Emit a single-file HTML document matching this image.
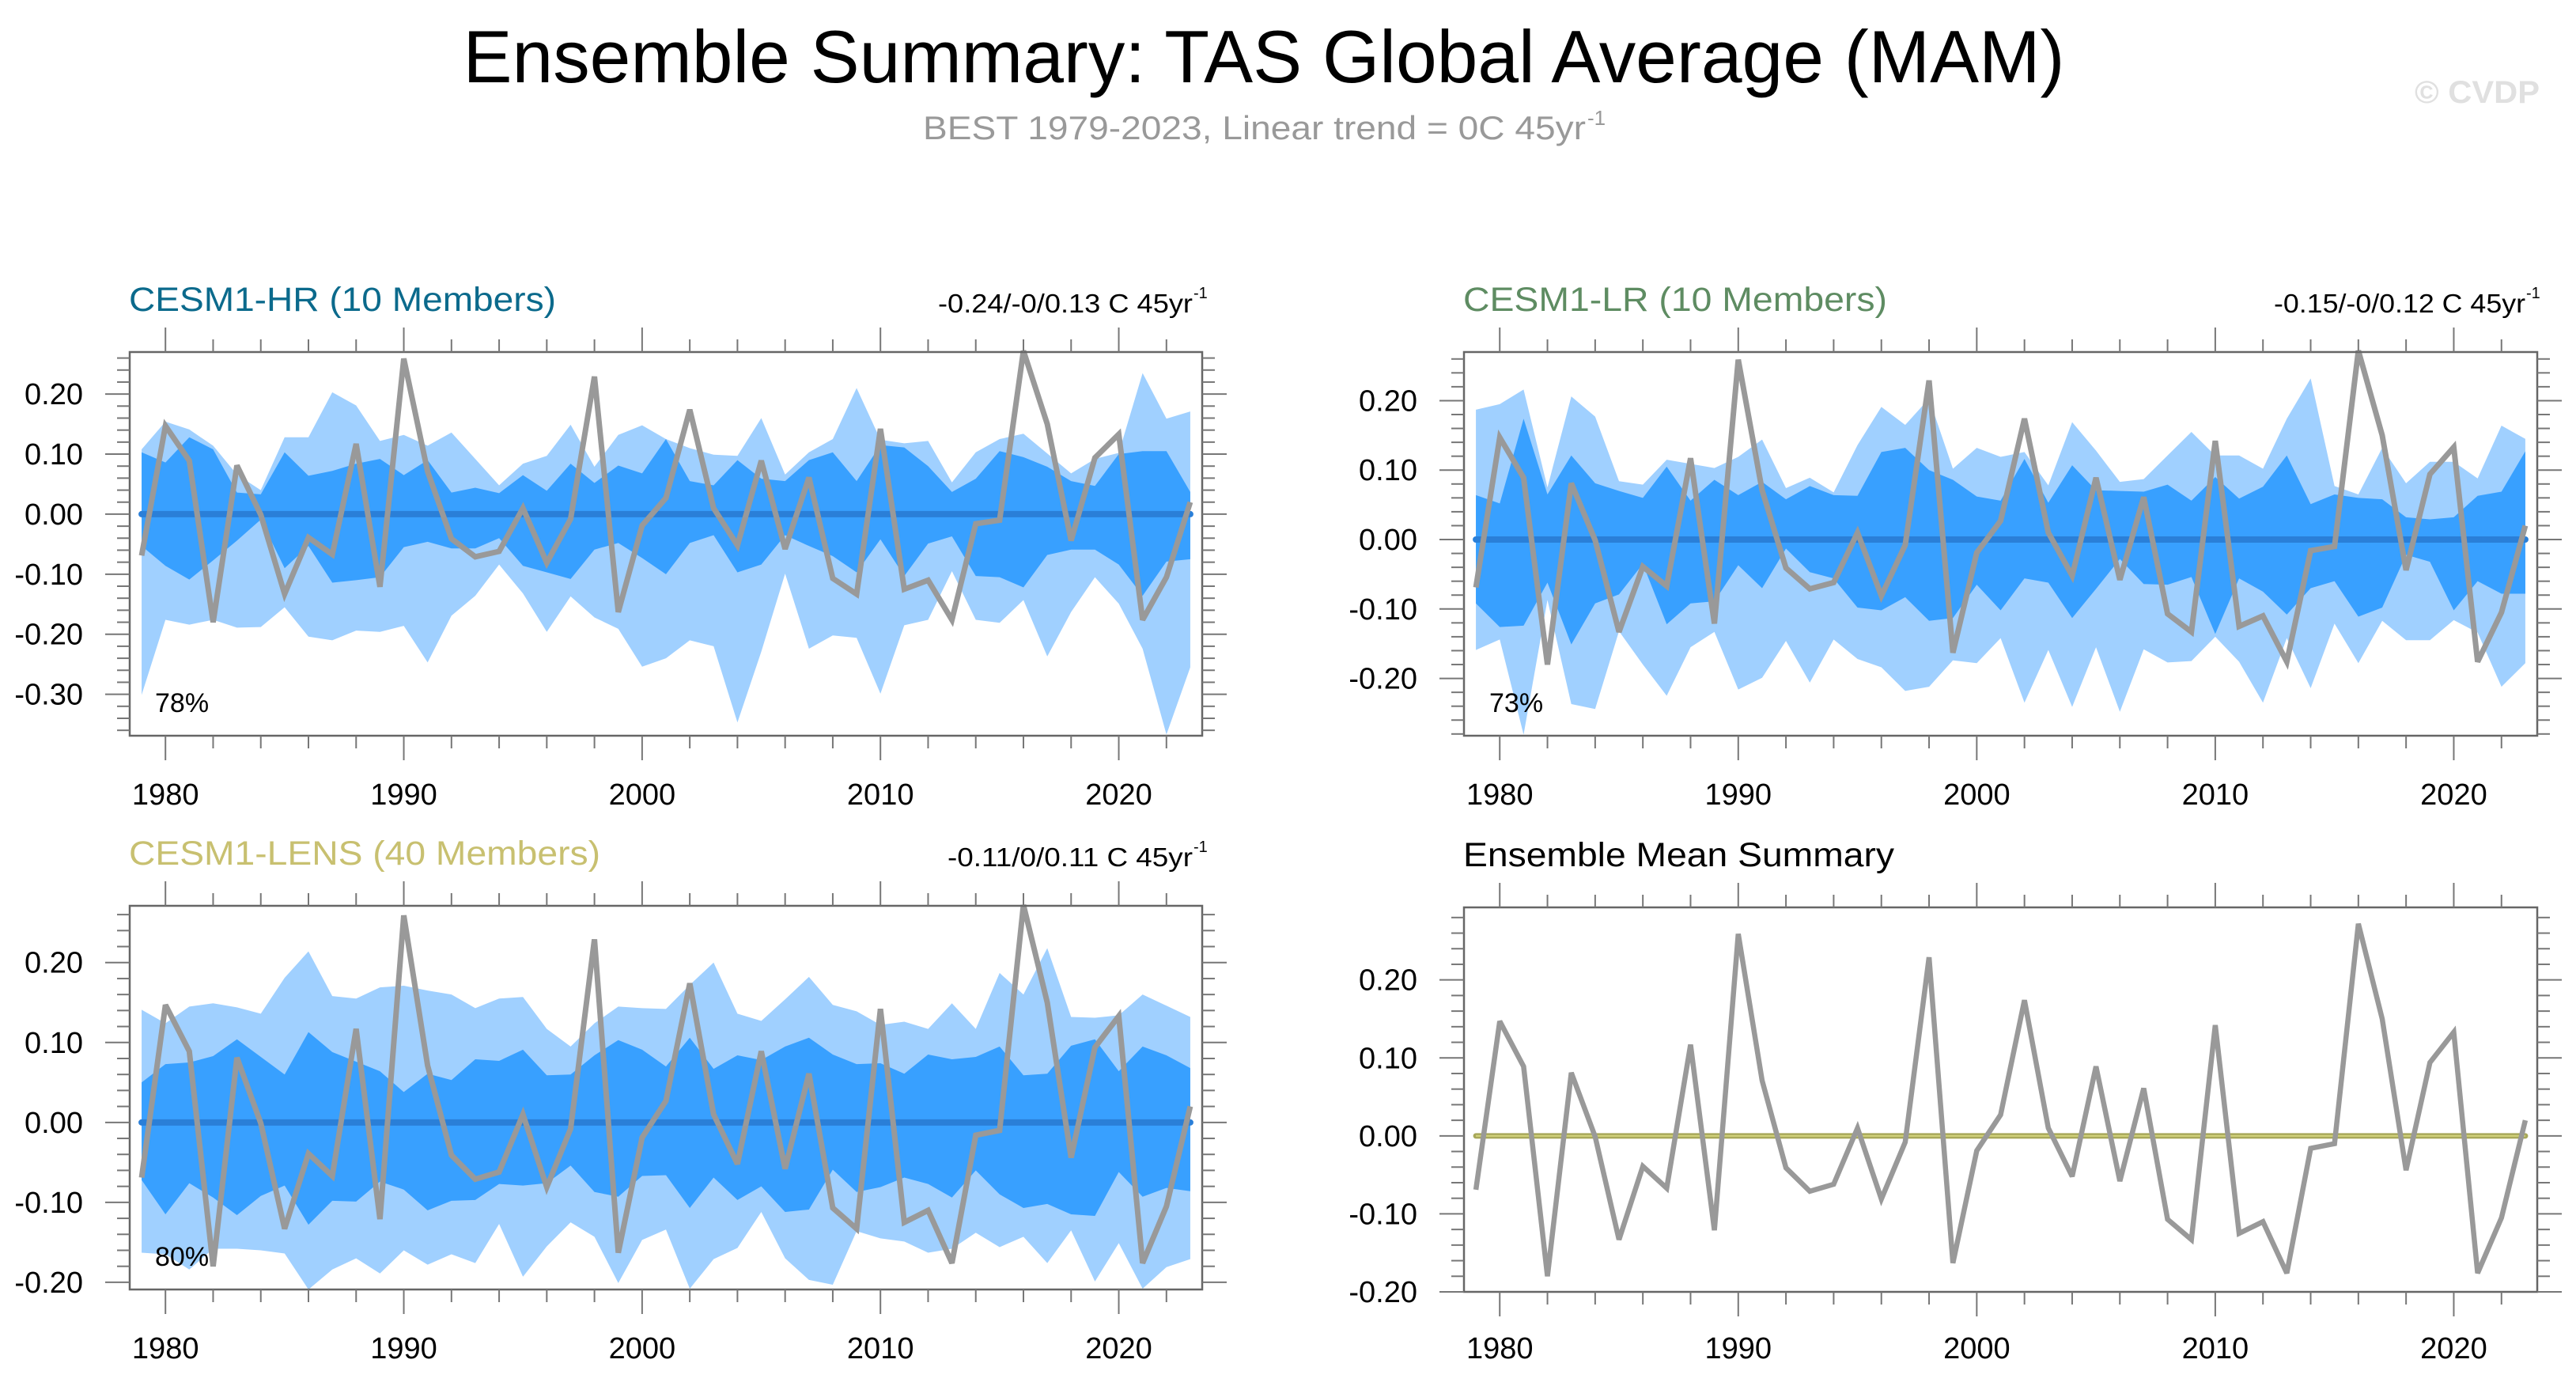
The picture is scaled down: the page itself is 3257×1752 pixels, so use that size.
<!DOCTYPE html>
<html><head><meta charset="utf-8">
<style>
html,body{margin:0;padding:0;background:#fff;}
svg{display:block;font-family:"Liberation Sans",Arial,sans-serif;}
</style></head>
<body>
<svg id="chart" width="3257" height="1752" viewBox="0 0 3257 1752" xmlns="http://www.w3.org/2000/svg">
<rect x="0" y="0" width="3257" height="1752" fill="#fff"/>
<text x="1598" y="104" font-size="94" text-anchor="middle" textLength="2025" lengthAdjust="spacingAndGlyphs" fill="#000">Ensemble Summary: TAS Global Average (MAM)</text>
<text x="1167" y="176" font-size="42" fill="#999" textLength="838" lengthAdjust="spacingAndGlyphs">BEST 1979-2023, Linear trend = 0C 45yr</text>
<text x="2007" y="158" font-size="26" fill="#999">-1</text>
<text x="3053" y="130" font-size="40" font-weight="bold" textLength="158" lengthAdjust="spacingAndGlyphs" fill="#e0e0e0">© CVDP</text>
<g id="panels"></g>
</svg>
<script>
const years = [1979,1980,1981,1982,1983,1984,1985,1986,1987,1988,1989,1990,1991,1992,1993,1994,1995,1996,1997,1998,1999,2000,2001,2002,2003,2004,2005,2006,2007,2008,2009,2010,2011,2012,2013,2014,2015,2016,2017,2018,2019,2020,2021,2022,2023];
const obs = [-0.069,0.147,0.089,-0.180,0.081,-0.001,-0.133,-0.039,-0.067,0.117,-0.121,0.259,0.071,-0.041,-0.071,-0.062,0.010,-0.081,-0.008,0.229,-0.163,-0.019,0.027,0.174,0.010,-0.052,0.089,-0.058,0.061,-0.107,-0.133,0.142,-0.125,-0.110,-0.176,-0.016,-0.010,0.272,0.150,-0.044,0.094,0.133,-0.176,-0.105,0.020];

const hrOuterHi = [0.108,0.154,0.141,0.114,0.066,0.040,0.128,0.128,0.203,0.181,0.122,0.132,0.114,0.136,0.092,0.048,0.084,0.097,0.149,0.079,0.132,0.148,0.125,0.110,0.099,0.097,0.160,0.066,0.103,0.125,0.210,0.124,0.118,0.122,0.053,0.103,0.125,0.134,0.101,0.068,0.092,0.102,0.235,0.159,0.171];
const hrInnerHi = [0.103,0.086,0.128,0.108,0.036,0.033,0.103,0.064,0.072,0.084,0.092,0.065,0.090,0.036,0.044,0.035,0.065,0.039,0.084,0.052,0.081,0.068,0.125,0.055,0.048,0.090,0.059,0.055,0.090,0.103,0.055,0.115,0.111,0.080,0.037,0.059,0.105,0.095,0.079,0.055,0.047,0.100,0.105,0.105,0.037];
const hrInnerLo = [-0.053,-0.086,-0.109,-0.077,-0.044,-0.009,-0.090,-0.053,-0.114,-0.110,-0.105,-0.055,-0.046,-0.057,-0.057,-0.040,-0.086,-0.097,-0.108,-0.059,-0.048,-0.073,-0.100,-0.048,-0.035,-0.097,-0.084,-0.035,-0.053,-0.070,-0.097,-0.042,-0.103,-0.049,-0.037,-0.103,-0.105,-0.122,-0.068,-0.059,-0.059,-0.084,-0.136,-0.079,-0.075];
const hrOuterLo = [-0.301,-0.176,-0.184,-0.176,-0.189,-0.188,-0.155,-0.204,-0.210,-0.194,-0.196,-0.186,-0.247,-0.169,-0.136,-0.084,-0.132,-0.196,-0.137,-0.172,-0.191,-0.254,-0.240,-0.210,-0.220,-0.347,-0.229,-0.099,-0.224,-0.202,-0.206,-0.299,-0.185,-0.176,-0.095,-0.176,-0.181,-0.143,-0.237,-0.163,-0.105,-0.149,-0.224,-0.367,-0.255];
const hrMean = [0,0,0,0,0,0,0,0,0,0,0,0,0,0,0,0,0,0,0,0,0,0,0,0,0,0,0,0,0,0,0,0,0,0,0,0,0,0,0,0,0,0,0,0,0];

const lrOuterHi = [0.187,0.195,0.216,0.075,0.206,0.177,0.084,0.079,0.115,0.109,0.103,0.119,0.144,0.074,0.089,0.068,0.136,0.191,0.165,0.203,0.102,0.132,0.119,0.126,0.078,0.169,0.128,0.083,0.087,0.121,0.155,0.121,0.121,0.102,0.174,0.232,0.077,0.065,0.132,0.081,0.112,0.112,0.088,0.164,0.145];
const lrInnerHi = [0.064,0.052,0.174,0.065,0.121,0.081,0.070,0.060,0.105,0.056,0.086,0.064,0.083,0.058,0.077,0.064,0.063,0.126,0.132,0.100,0.086,0.062,0.056,0.116,0.053,0.107,0.071,0.070,0.069,0.079,0.056,0.090,0.059,0.076,0.121,0.051,0.065,0.060,0.058,0.032,0.029,0.032,0.063,0.069,0.127];
const lrInnerLo = [-0.092,-0.126,-0.124,-0.062,-0.151,-0.092,-0.079,-0.035,-0.122,-0.092,-0.089,-0.037,-0.070,-0.013,-0.047,-0.056,-0.098,-0.102,-0.083,-0.117,-0.113,-0.065,-0.102,-0.056,-0.062,-0.113,-0.071,-0.028,-0.064,-0.065,-0.054,-0.136,-0.056,-0.075,-0.108,-0.070,-0.060,-0.111,-0.098,-0.022,-0.032,-0.102,-0.060,-0.078,-0.078];
const lrOuterLo = [-0.159,-0.144,-0.281,-0.087,-0.237,-0.244,-0.132,-0.180,-0.225,-0.155,-0.133,-0.216,-0.199,-0.146,-0.206,-0.144,-0.172,-0.184,-0.218,-0.212,-0.174,-0.178,-0.142,-0.235,-0.159,-0.241,-0.155,-0.248,-0.158,-0.177,-0.175,-0.140,-0.176,-0.235,-0.142,-0.214,-0.121,-0.178,-0.117,-0.145,-0.145,-0.116,-0.134,-0.212,-0.178];
const lrMean = [0,0,0,0,0,0,0,0,0,0,0,0,0,0,0,0,0,0,0,0,0,0,0,0,0,0,0,0,0,0,0,0,0,0,0,0,0,0,0,0,0,0,0,0,0];

const lensOuterHi = [0.141,0.124,0.145,0.149,0.144,0.136,0.181,0.214,0.158,0.155,0.169,0.171,0.165,0.160,0.143,0.155,0.157,0.117,0.095,0.124,0.145,0.143,0.142,0.172,0.200,0.136,0.127,0.154,0.182,0.147,0.139,0.122,0.126,0.117,0.149,0.117,0.187,0.160,0.218,0.132,0.131,0.134,0.160,0.146,0.132];
const lensInnerHi = [0.050,0.073,0.075,0.083,0.104,0.082,0.060,0.113,0.088,0.076,0.064,0.038,0.061,0.053,0.079,0.077,0.091,0.059,0.060,0.084,0.103,0.091,0.070,0.106,0.067,0.084,0.078,0.095,0.106,0.085,0.073,0.074,0.061,0.085,0.079,0.082,0.095,0.059,0.061,0.096,0.104,0.064,0.095,0.084,0.068];
const lensInnerLo = [-0.072,-0.115,-0.076,-0.094,-0.116,-0.092,-0.079,-0.128,-0.098,-0.099,-0.074,-0.084,-0.110,-0.098,-0.097,-0.077,-0.079,-0.076,-0.054,-0.087,-0.093,-0.067,-0.066,-0.107,-0.069,-0.097,-0.080,-0.112,-0.109,-0.059,-0.087,-0.081,-0.069,-0.077,-0.094,-0.060,-0.090,-0.107,-0.102,-0.115,-0.117,-0.062,-0.093,-0.082,-0.086];
const lensOuterLo = [-0.163,-0.165,-0.184,-0.158,-0.158,-0.160,-0.164,-0.209,-0.184,-0.170,-0.189,-0.160,-0.178,-0.165,-0.176,-0.127,-0.193,-0.155,-0.125,-0.143,-0.201,-0.147,-0.134,-0.208,-0.171,-0.157,-0.112,-0.170,-0.197,-0.203,-0.136,-0.145,-0.149,-0.163,-0.158,-0.138,-0.156,-0.143,-0.176,-0.135,-0.199,-0.151,-0.208,-0.181,-0.171];
const lensMean = [0,0,0,0,0,0,0,0,0,0,0,0,0,0,0,0,0,0,0,0,0,0,0,0,0,0,0,0,0,0,0,0,0,0,0,0,0,0,0,0,0,0,0,0,0];

const summaryMean = [0,0,0,0,0,0,0,0,0,0,0,0,0,0,0,0,0,0,0,0,0,0,0,0,0,0,0,0,0,0,0,0,0,0,0,0,0,0,0,0,0,0,0,0,0];

const xTickLabels = [1980,1990,2000,2010,2020];
const yTicksHR = [0.2,0.1,0,-0.1,-0.2,-0.3];
const yTicksOther = [0.2,0.1,0,-0.1,-0.2];

const NS = "http://www.w3.org/2000/svg";
const root = document.getElementById('panels');
function mk(tag, attrs, parent){
  const e = document.createElementNS(NS, tag);
  for (const k in attrs) e.setAttribute(k, attrs[k]);
  (parent||root).appendChild(e);
  return e;
}

function drawPanel(p){
  const g = mk('g', {});
  
  
  const xs = v => p.x0 + (v - 1978.5) / 45 * (p.x1 - p.x0);
  const ys = v => p.y0 + (p.vmax - v) / (p.vmax - p.vmin) * (p.y1 - p.y0);

  const t = mk('text', {x:p.x0-1, y:p.y0-52, 'font-size':43, fill:p.titleColor, textLength:p.titleLen, lengthAdjust:'spacingAndGlyphs'}, g);
  t.textContent = p.title;
  
  
  if (p.trend){
    const a = mk('text', {x:p.trendStart, y:p.y0-50, 'font-size':33, fill:'#000', textLength:p.trendLen, lengthAdjust:'spacingAndGlyphs'}, g);
    a.textContent = p.trend;
    
    
    const s = mk('text', {x:p.trendStart+p.trendLen+1, y:p.y0-68, 'font-size':20, fill:'#000'}, g);
    s.textContent = '-1';
    
    
  }

  if (p.oHi){
    const poly = (hi, lo) => years.map((y,i)=>xs(y)+','+ys(hi[i])).concat(years.slice().reverse().map((y,j)=>{const i=years.length-1-j;return xs(y)+','+ys(lo[i]);})).join(' ');
    const lb = mk('polygon', {points:poly(p.oHi,p.oLo), fill:'#a0d0ff'}, g);
    
    
    const db = mk('polygon', {points:poly(p.iHi,p.iLo), fill:'#38a0ff'}, g);
    
    
  }
  const mpts = years.map((y,i)=>xs(y)+','+ys(p.mean[i])).join(' ');
  if (p.summary){
    const m1 = mk('polyline', {points:mpts, fill:'none', stroke:'#a8a85a', 'stroke-width':7, 'stroke-linecap':'round'}, g);
    
    
    const m2 = mk('polyline', {points:mpts, fill:'none', stroke:'#d4d47c', 'stroke-width':2}, g);
    
    
  } else {
    const m = mk('polyline', {points:mpts, fill:'none', stroke:'#2a7fd8', 'stroke-width':8, 'stroke-linecap':'round'}, g);
    
    
  }
  const opts = years.map((y,i)=>xs(y)+','+ys(obs[i])).join(' ');
  const o = mk('polyline', {points:opts, fill:'none', stroke:'#999999', 'stroke-width':p.summary?6.5:7, 'stroke-linejoin':'miter', 'stroke-miterlimit':3}, g);
  
  

  const fr = mk('rect', {x:p.x0, y:p.y0, width:p.x1-p.x0, height:p.y1-p.y0, fill:'none', stroke:'#666', 'stroke-width':2.5}, g);
  
  

  for (let yr = 1980; yr <= 2022; yr += 2){
    const major = yr % 10 === 0;
    const L = major ? 31 : 16;
    const x = xs(yr);
    const tk1 = mk('line', {x1:x, x2:x, y1:p.y0, y2:p.y0-L, stroke:'#777', 'stroke-width':2}, g);
    
    
    const tk2 = mk('line', {x1:x, x2:x, y1:p.y1, y2:p.y1+L, stroke:'#777', 'stroke-width':2}, g);
    
    
  }
  xTickLabels.forEach(yr=>{
    const tl = mk('text', {x:xs(yr), y:p.y1+p.xLabOff, 'font-size':38, 'text-anchor':'middle', fill:'#000'}, g);
    tl.textContent = String(yr);
    
    
  });
  for (let k = Math.ceil(p.vmin/0.02 - 1e-6); k*0.02 <= p.vmax + 1e-9; k++){
    const v = k*0.02;
    const major = Math.abs(k % 5) === 0;
    const L = major ? 31 : 16;
    const y = ys(v);
    const a1 = mk('line', {x1:p.x0, x2:p.x0-L, y1:y, y2:y, stroke:'#777', 'stroke-width':2}, g);
    
    
    const a2 = mk('line', {x1:p.x1, x2:p.x1+L, y1:y, y2:y, stroke:'#777', 'stroke-width':2}, g);
    
    
  }
  p.yTicks.forEach(v=>{
    const tl = mk('text', {x:p.x0-59, y:ys(v)+13, 'font-size':38, 'text-anchor':'end', fill:'#000'}, g);
    tl.textContent = v.toFixed(2);
    
    
  });
  if (p.pct){
    const pc = mk('text', {x:p.x0+32, y:p.y1-30, 'font-size':34, fill:'#000'}, g);
    pc.textContent = p.pct;
    
    
  }
}

drawPanel({name:'panel-cesm1-hr', x0:164, x1:1520, y0:445, y1:930, vmax:0.270, vmin:-0.369, xLabOff:87,
  title:'CESM1-HR (10 Members)', titleColor:'#0b6a8c', titleLen:540, trend:'-0.24/-0/0.13 C 45yr', trendStart:1186, trendLen:322,
  oHi:hrOuterHi, iHi:hrInnerHi, iLo:hrInnerLo, oLo:hrOuterLo, mean:hrMean, yTicks:yTicksHR, pct:'78%'});
drawPanel({name:'panel-cesm1-lr', x0:1851, x1:3208, y0:445, y1:930, vmax:0.270, vmin:-0.2825, xLabOff:87,
  title:'CESM1-LR (10 Members)', titleColor:'#5e8c62', titleLen:536, trend:'-0.15/-0/0.12 C 45yr', trendStart:2875, trendLen:318,
  oHi:lrOuterHi, iHi:lrInnerHi, iLo:lrInnerLo, oLo:lrOuterLo, mean:lrMean, yTicks:yTicksOther, pct:'73%'});
drawPanel({name:'panel-cesm1-lens', x0:164, x1:1520, y0:1145, y1:1630, vmax:0.271, vmin:-0.209, xLabOff:87,
  title:'CESM1-LENS (40 Members)', titleColor:'#c8c070', titleLen:596, trend:'-0.11/0/0.11 C 45yr', trendStart:1198, trendLen:310,
  oHi:lensOuterHi, iHi:lensInnerHi, iLo:lensInnerLo, oLo:lensOuterLo, mean:lensMean, yTicks:yTicksOther, pct:'80%'});
drawPanel({name:'panel-ensemble-mean-summary', x0:1851, x1:3208, y0:1147, y1:1633, vmax:0.293, vmin:-0.2, xLabOff:84,
  title:'Ensemble Mean Summary', titleColor:'#000', titleLen:545, summary:true,
  mean:summaryMean, yTicks:yTicksOther});
</script>
</body></html>
